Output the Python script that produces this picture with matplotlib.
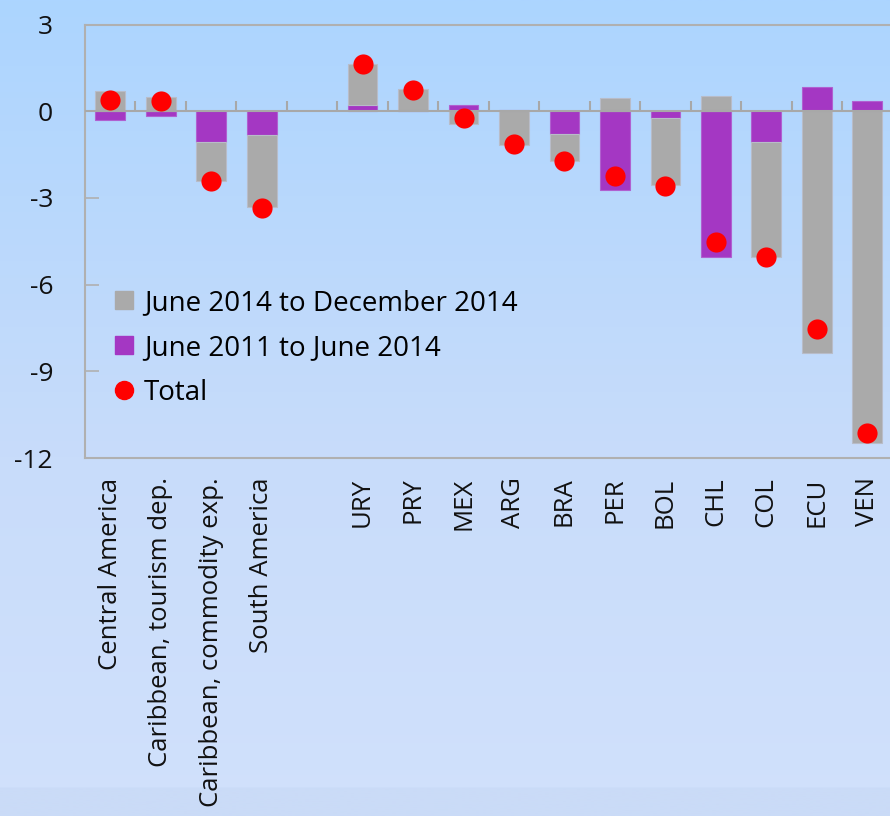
import numpy as np
import matplotlib
matplotlib.use("Agg")
import matplotlib.pyplot as plt
from matplotlib.lines import Line2D

categories = ["Central America", "Caribbean, tourism dep.", "Caribbean, commodity exp.",
              "South America", "", "URY", "PRY", "MEX", "ARG", "BRA", "PER", "BOL",
              "CHL", "COL", "ECU", "VEN"]
dec2014 = [0.69, 0.48, -1.34, -2.50, np.nan, 1.42, 0.76, -0.44, -1.17, -0.94, 0.47, -2.33,
           0.54, -3.97, -8.37, -11.48]
jun2014 = [-0.30, -0.15, -1.07, -0.83, np.nan, 0.21, 0.0, 0.20, 0.03, -0.80, -2.72, -0.24,
           -5.06, -1.06, 0.83, 0.35]
total = [0.38, 0.36, -2.42, -3.35, np.nan, 1.63, 0.75, -0.22, -1.14, -1.74, -2.23, -2.58,
         -4.51, -5.04, -7.53, -11.13]
yticks = [3, 0, -3, -6, -9, -12]
legend_labels = ["June 2014 to December 2014", "June 2011 to June 2014", "Total"]

GRAY = "#aaaaaa"
PURPLE = "#a437c3"
RED = "#ff0000"
FONT = "Open Sans"
plt.rcParams['font.family'] = [FONT, 'DejaVu Sans']

fig = plt.figure(figsize=(8.9, 8.16), dpi=100)

# background gradient
bg = fig.add_axes([0, 0, 1, 1], zorder=-10)
ys = np.linspace(0, 1, 400)
top = np.array([172, 213, 255]) / 255
mid = np.array([200, 220, 250]) / 255
bot = np.array([209, 225, 252]) / 255
cols = np.zeros((400, 1, 3))
for i, t in enumerate(ys):
    if t < 0.56:
        c = top + (mid - top) * (t / 0.56)
    else:
        c = mid + (bot - mid) * ((t - 0.56) / 0.44)
    if t > 0.965:
        c = np.array([202, 219, 247]) / 255
    cols[i, 0] = c
bg.imshow(cols, aspect='auto', extent=[0, 1, 1, 0])
bg.set_xlim(0, 1); bg.set_ylim(1, 0)
bg.axis('off')

ax = fig.add_axes([85 / 890, 1 - 458 / 816, 1 - 85 / 890, (458 - 24.5) / 816])
ax.set_facecolor('none')
x = np.arange(len(categories))
g = np.array(dec2014, dtype=float)
p = np.array(jun2014, dtype=float)
gbottom = np.where(np.sign(g) == np.sign(p), p, 0.0)
w = 0.59
ax.bar(x, p, width=w, color=PURPLE, edgecolor="#b060d0", linewidth=0.8, zorder=2)
ax.bar(x, g, bottom=gbottom, width=w, color=GRAY, edgecolor="#b8bcc8", linewidth=0.8, zorder=2)
ax.plot(x, total, 'o', color=RED, markersize=14.5, markeredgewidth=0, zorder=4)

ax.axhline(0, color="#a8a8a8", linewidth=1.5, zorder=3)
ax.vlines(np.arange(len(categories) - 1) + 0.5, 0, 0.35, color="#a8a8a8", linewidth=1.5, zorder=3)

ax.set_xlim(-0.5, 15.45)
ax.set_ylim(-12, 3)
ax.set_yticks(yticks)
ax.set_yticklabels([str(v) for v in yticks], fontsize=19, color="#111111")
ax.tick_params(axis='y', direction='in', length=10, width=1.2, color="#b0b0b0", pad=23)
ax.set_xticks(x)
ax.set_xticklabels(categories, rotation=90, fontsize=18.5, color="#111111", va='top', ha='center')
ax.tick_params(axis='x', length=0, pad=14)
for s in ['left', 'top', 'bottom']:
    ax.spines[s].set_color("#b0b0b0")
    ax.spines[s].set_linewidth(1.5)
ax.spines['right'].set_visible(False)

handles = [Line2D([], [], marker='s', linestyle='none', color=GRAY, markersize=13.5),
           Line2D([], [], marker='s', linestyle='none', color=PURPLE, markersize=13.5),
           Line2D([], [], marker='o', linestyle='none', color=RED, markersize=13)]
leg = ax.legend(handles, legend_labels, loc='center left', bbox_to_anchor=(0.035, 0.254),
                frameon=False, fontsize=20, handlelength=0.8, handletextpad=0.3,
                labelspacing=0.62, borderaxespad=0, borderpad=0)

fig.savefig("out.png", dpi=100)
